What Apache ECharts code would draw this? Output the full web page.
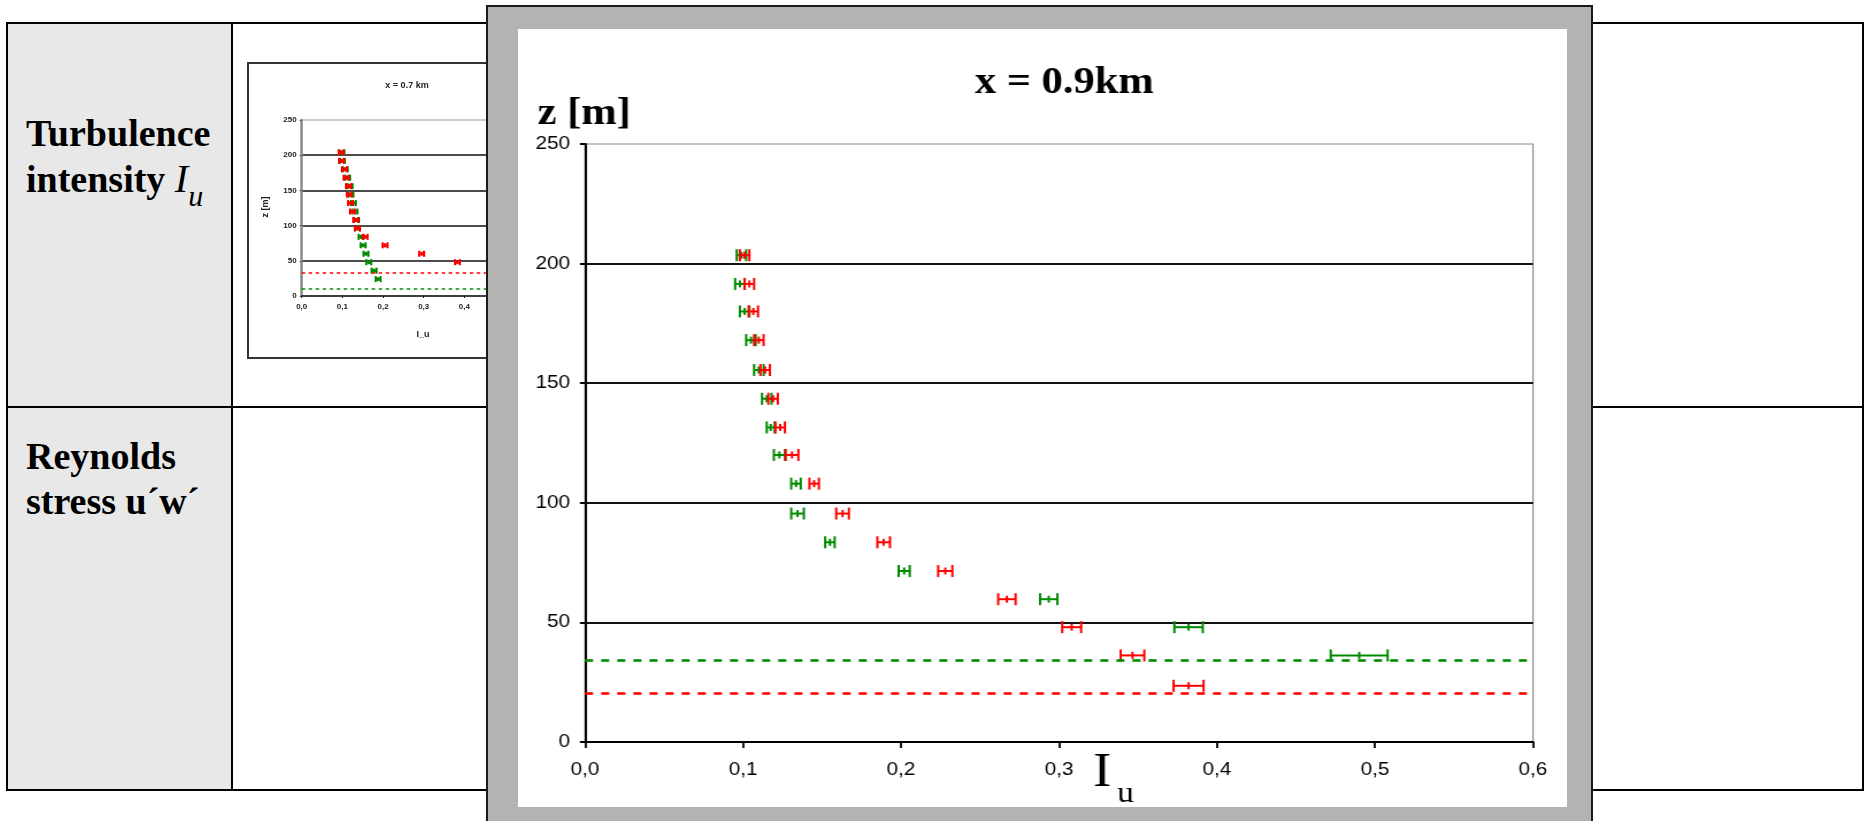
<!DOCTYPE html>
<html><head><meta charset="utf-8">
<script src="https://cdn.jsdelivr.net/npm/echarts@6/dist/echarts.min.js"></script>
<style>
html,body{margin:0;padding:0;background:#fff;width:1865px;height:821px;overflow:hidden;}
body{position:relative}
.abs{position:absolute}
.cell{font-family:"Liberation Serif","Times New Roman",serif;font-weight:bold;font-size:38px;line-height:45px;color:#000;white-space:nowrap}
.it{font-style:italic;font-weight:normal}
</style></head><body>
<!-- table -->
<div class="abs" style="left:6px;top:22px;width:1858px;height:769px;border:2px solid #000;box-sizing:border-box;"></div>
<div class="abs" style="left:8px;top:24px;width:223px;height:765px;background:#e8e8e8"></div>
<div class="abs" style="left:231px;top:22px;width:2px;height:769px;background:#000"></div>
<div class="abs" style="left:6px;top:406px;width:1858px;height:2px;background:#000"></div>
<div class="abs cell" style="left:26px;top:111px">Turbulence<br>intensity <span class="it" style="font-size:40px">I</span><span class="it" style="font-size:30px;position:relative;top:14px">u</span></div>
<div class="abs cell" style="left:26px;top:434px">Reynolds<br>stress u´w´</div>
<!-- thumbnail -->
<div class="abs" style="left:247px;top:62px;width:300px;height:297px;border:2px solid #333;box-sizing:border-box;background:#fff"></div>
<div id="thumb" class="abs" style="left:249px;top:64px;width:296px;height:293px"></div>
<!-- overlay panel -->
<div class="abs" style="left:486px;top:5px;width:1107px;height:830px;background:#b3b3b3;border:2px solid #1a1a1a;box-sizing:border-box"></div>
<div class="abs" style="left:518px;top:29px;width:1049px;height:778px;background:#fff"></div>
<div id="main" class="abs" style="left:518px;top:29px;width:912px;height:778px;transform:scaleX(1.15);transform-origin:0 0"></div>
<script>
// ---- main chart (x = 0.9 km) ----
const heights = [203.5,191.5,180,168,155.5,143.5,131.5,120,108,95.5,83.5,71.5,59.7,48,36.2,23.5];
const greenI   = [0.099,0.098,0.101,0.105,0.110,0.115,0.1175,0.123,0.1335,0.1345,0.155,0.202,0.2935,0.382,0.490];
const greenErr = [0.003,0.003,0.003,0.003,0.003,0.003,0.0025,0.0035,0.003,0.004,0.003,0.0035,0.0055,0.009,0.018];
const redI     = [0.101,0.104,0.1065,0.110,0.114,0.119,0.1235,0.131,0.145,0.163,0.189,0.228,0.267,0.308,0.3465,0.382];
const redErr   = [0.003,0.003,0.003,0.003,0.003,0.003,0.003,0.004,0.003,0.004,0.004,0.0045,0.0055,0.006,0.0075,0.0095];
const greenLevel = [34.3];
const redLevel = [20.4];
const xTickLabels = ['0,0','0,1','0,2','0,3','0,4','0,5','0,6'];
const yTicks = [0,50,100,150,200,250];

// ---- thumbnail (x = 0.7 km) ----
const tHeights = [204,192,180,168,156,144,132,120,108,96,84,72,60,48,36,24];
const tRedI   = [0.097,0.098,0.105,0.109,0.115,0.117,0.120,0.125,0.133,0.137,0.156,0.205,0.295,0.383];
const tGreenI = [0.099,0.100,0.107,0.113,0.119,0.121,0.127,0.131,0.135,0.137,0.146,0.151,0.158,0.165,0.178,0.188];
const tErr = 0.006;
const tRedLevel = [33];
const tGreenLevel = [10.4];

const GREEN = '#008a00', RED = '#ff0000';

function build(hs, xs, errs) {
  return xs.map((v, i) => {
    const e = Array.isArray(errs) ? errs[i] : errs;
    return [hs[i], v, v - e, v + e];
  });
}
function errBar(color, cap, mid, lw) {
  return function (params, api) {
    const z = api.value(0), c = api.value(1), lo = api.value(2), hi = api.value(3);
    const a = api.coord([lo, z]), b = api.coord([hi, z]), m = api.coord([c, z]);
    const st = { stroke: color, lineWidth: lw, fill: null };
    return { type: 'group', children: [
      { type: 'line', shape: { x1: a[0], y1: a[1], x2: b[0], y2: b[1] }, style: st },
      { type: 'line', shape: { x1: a[0], y1: a[1] - cap, x2: a[0], y2: a[1] + cap }, style: st },
      { type: 'line', shape: { x1: b[0], y1: b[1] - cap, x2: b[0], y2: b[1] + cap }, style: st },
      { type: 'line', shape: { x1: m[0], y1: m[1] - mid, x2: m[0], y2: m[1] + mid }, style: st }
    ]};
  };
}
function levelLine(val, color, w, dash) {
  return { silent: true, symbol: ['none','none'], label: { show: false },
    lineStyle: { color: color, width: w, type: dash }, data: [{ yAxis: val }] };
}

const main = echarts.init(document.getElementById('main'), null, { renderer: 'canvas' });
main.setOption({
  animation: false,
  grid: { left: 58.3, top: 115, width: 824.3, height: 598, show: true, borderColor: '#8c8c8c', borderWidth: 1.2, backgroundColor: 'transparent', containLabel: false, outerBoundsMode: 'none' },
  xAxis: { type: 'value', min: 0, max: 0.6, interval: 0.1,
    axisLine: { show: true, onZero: false, lineStyle: { color: '#000', width: 2 } },
    axisTick: { show: true, length: 6, lineStyle: { color: '#000', width: 1.8 } },
    axisLabel: { show: true, showMinLabel: true, showMaxLabel: true, margin: 19, fontSize: 18, color: '#000', fontFamily: '"Liberation Sans", Arial, sans-serif',
      formatter: v => xTickLabels[Math.round(v / 0.1)] },
    splitLine: { show: false } },
  yAxis: { type: 'value', min: yTicks[0], max: yTicks[yTicks.length - 1], interval: 50,
    axisLine: { show: true, onZero: false, lineStyle: { color: '#000', width: 2 } },
    axisTick: { show: true, length: 4.5, lineStyle: { color: '#000', width: 2 } },
    axisLabel: { show: true, margin: 13, fontSize: 18, color: '#000', fontFamily: '"Liberation Sans", Arial, sans-serif' },
    splitLine: { show: true, showMinLine: false, showMaxLine: false, lineStyle: { color: '#111', width: 2 } } },
  series: [
    { type: 'custom', name: 'green', renderItem: errBar(GREEN, 6, 3.5, 2), data: build(heights, greenI, greenErr),
      encode: { x: [1, 2, 3], y: 0 }, z: 3,
      markLine: levelLine(greenLevel[0], GREEN, 2.6, [7, 7]) },
    { type: 'custom', name: 'red', renderItem: errBar(RED, 6, 3.5, 2), data: build(heights, redI, redErr),
      encode: { x: [1, 2, 3], y: 0 }, z: 4,
      markLine: levelLine(redLevel[0], RED, 2.6, [7, 7]) }
  ],
  graphic: [
    { type: 'text', x: 475, y: 54, style: { text: 'x = 0.9km', font: 'bold 37px "Liberation Serif", "Times New Roman", serif', fill: '#000', align: 'center', verticalAlign: 'middle', textAlign: 'center', textVerticalAlign: 'middle' } },
    { type: 'text', x: 17, y: 85, style: { text: 'z [m]', font: 'bold 37px "Liberation Serif", "Times New Roman", serif', fill: '#000', align: 'left', verticalAlign: 'middle', textAlign: 'left', textVerticalAlign: 'middle' } },
    { type: 'text', x: 500, y: 744, style: { text: 'I', font: '48px "Liberation Serif", "Times New Roman", serif', fill: '#000', align: 'left', verticalAlign: 'middle', textAlign: 'left', textVerticalAlign: 'middle' } },
    { type: 'text', x: 521, y: 765, style: { text: 'u', font: '29px "Liberation Serif", "Times New Roman", serif', fill: '#000', align: 'left', verticalAlign: 'middle', textAlign: 'left', textVerticalAlign: 'middle' } }
  ]
});

const thumb = echarts.init(document.getElementById('thumb'), null, { renderer: 'canvas' });
const tFont = '"Liberation Sans", Arial, sans-serif';
thumb.setOption({
  animation: false,
  grid: { left: 52.7, top: 56, width: 244, height: 176, show: true, borderColor: '#999', borderWidth: 1, containLabel: false, outerBoundsMode: 'none' },
  xAxis: { type: 'value', min: 0, max: 0.6, interval: 0.1,
    axisLine: { show: true, onZero: false, lineStyle: { color: '#111', width: 1.5 } },
    axisTick: { show: true, length: 2, lineStyle: { color: '#111', width: 1 } },
    axisLabel: { margin: 7, fontSize: 8, fontWeight: 'bold', color: '#222', fontFamily: tFont, formatter: v => xTickLabels[Math.round(v / 0.1)] },
    splitLine: { show: false } },
  yAxis: { type: 'value', min: 0, max: 250, interval: 50,
    axisLine: { show: true, onZero: false, lineStyle: { color: '#8a8a8a', width: 2.5 } },
    axisTick: { show: true, length: 2, lineStyle: { color: '#555', width: 1 } },
    axisLabel: { margin: 5, fontSize: 8, fontWeight: 'bold', color: '#222', fontFamily: tFont },
    splitLine: { show: true, showMinLine: false, showMaxLine: false, lineStyle: { color: '#111', width: 1.5 } } },
  series: [
    { type: 'custom', renderItem: errBar(GREEN, 3, 2, 2.2), data: build(tHeights, tGreenI, tErr), encode: { x: [1, 2, 3], y: 0 }, z: 3,
      markLine: levelLine(tGreenLevel[0], GREEN, 1.5, [3.5, 3.5]) },
    { type: 'custom', renderItem: errBar(RED, 3, 2, 2.2), data: build(tHeights, tRedI, tErr), encode: { x: [1, 2, 3], y: 0 }, z: 4,
      markLine: levelLine(tRedLevel[0], RED, 1.5, [3.5, 3.5]) }
  ],
  graphic: [
    { type: 'text', x: 158, y: 22, style: { text: 'x = 0.7 km', font: 'bold 9px ' + tFont, fill: '#222', align: 'center', verticalAlign: 'middle' } },
    { type: 'text', x: 17, y: 143, rotation: Math.PI / 2, style: { text: 'z [m]', font: 'bold 9px ' + tFont, fill: '#222', align: 'center', verticalAlign: 'middle' } },
    { type: 'text', x: 174, y: 271, style: { text: 'I_u', font: 'bold 9px ' + tFont, fill: '#222', align: 'center', verticalAlign: 'middle' } }
  ]
});
</script>
</body></html>
